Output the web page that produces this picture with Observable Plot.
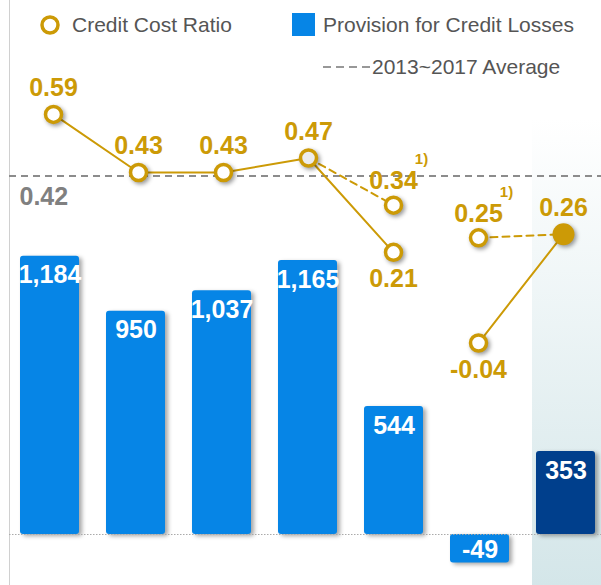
<!DOCTYPE html>
<html><head><meta charset="utf-8">
<script src="https://cdn.jsdelivr.net/npm/d3@7"></script>
<script src="https://cdn.jsdelivr.net/npm/@observablehq/plot@0.6"></script>
<style>
body{margin:0;background:#fff;font-family:"Liberation Sans",Arial,sans-serif;}
#wrap{position:relative;width:601px;height:585px;overflow:hidden;}
#wrap svg.layer{position:absolute;left:0;top:0;}
.bars g[aria-label="bar"]{filter:drop-shadow(3px 2px 2px rgba(0,0,0,0.35));}
.lines g[aria-label="dot"]{filter:drop-shadow(2px 2px 2px rgba(0,0,0,0.4));}
.leg{position:absolute;font-size:21px;line-height:24px;color:#555;white-space:nowrap;}
</style></head>
<body><div id="wrap"></div>
<script>
// ---- data ----
const categories = ["2013","2014","2015","2016","2017","1Q17","1Q18"];
const provision = [1184, 950, 1037, 1165, 544, -49, 353];
const provisionLabels = ["1,184","950","1,037","1,165","544","-49","353"];
const ratio = [0.59, 0.43, 0.43, 0.47, 0.21, -0.04, 0.26];
const ratioLabels = ["0.59","0.43","0.43","0.47","0.21","-0.04","0.26"];
const ratioGroup = ["annual","annual","annual","annual","annual","quarter","quarter"];
const adjCategories = ["2016","2017","1Q17","1Q18"];
const adjRatio = [0.47, 0.34, 0.25, 0.26];
const adjLabels = ["", "0.34", "0.25", ""];
const adjNotes = ["", "1)", "1)", ""];
const adjGroup = ["annual","annual","quarter","quarter"];
const averageRatio = 0.42;
const averageLabel = "0.42";

// ---- styles ----
const BLUE = "#0685e6", NAVY = "#003f8c", GOLD = "#cc9a06", GRAY = "#808080";
const FONT = "Liberation Sans, Arial, sans-serif";
const latestCat = categories[categories.length - 1];

const barData = categories.map((c, i) => ({cat: c, value: provision[i], label: provisionLabels[i]}));
const ratioData = categories.map((c, i) => ({cat: c, value: ratio[i], label: ratioLabels[i], group: ratioGroup[i]}));
const adjData = adjCategories.map((c, i) => ({cat: c, value: adjRatio[i], label: adjLabels[i], note: adjNotes[i], group: adjGroup[i]}));
ratioData.forEach(d => {
  const a = adjData.find(e => e.cat === d.cat);
  d.below = !!a && a.value > d.value;
});

const xOpts = {domain: categories, range: [9, 606], paddingInner: 0.31, paddingOuter: 0.09, axis: null};

const barPlot = Plot.plot({
  width: 601, height: 585, margin: 0, marginLeft: 9,
  className: "bars",
  style: {fontFamily: FONT, background: "transparent"},
  x: xOpts,
  y: {domain: [0, 1000], range: [534, 298.9], axis: null},
  marks: [
    Plot.cell([latestCat], {x: d => d, fill: "url(#panelGrad)", insetTop: 118, insetLeft: -4, insetRight: -8}),
    Plot.frame({anchor: "left", stroke: "#d0d0d0"}),
    Plot.barY(barData.filter(d => d.value >= 0 && d.cat !== latestCat), {x: "cat", y: "value", fill: BLUE, rx: 3}),
    Plot.barY(barData.filter(d => d.cat === latestCat), {x: "cat", y: "value", fill: NAVY, rx: 3}),
    Plot.barY(barData.filter(d => d.value < 0), {x: "cat", y: "value", fill: BLUE, rx: 3, insetBottom: -17}),
    Plot.ruleY([0], {stroke: "#aaa", strokeDasharray: "1.5,1.5"}),
    Plot.text(barData.filter(d => d.value >= 0), {x: "cat", y: "value", text: "label", dy: 19, fill: "white", fontSize: 25, fontWeight: "bold"}),
    Plot.text(barData.filter(d => d.value < 0), {x: "cat", y: "value", text: "label", dy: 4, fill: "white", fontSize: 25, fontWeight: "bold"})
  ]
});
barPlot.classList.add("layer");
d3.select(barPlot).insert("defs", ":first-child").html(
  '<linearGradient id="panelGrad" x1="0" y1="0" x2="0" y2="1">' +
  '<stop offset="0" stop-color="#ffffff"/><stop offset="1" stop-color="#d4e6e9"/></linearGradient>');

const linePlot = Plot.plot({
  width: 601, height: 585, margin: 0, marginLeft: 9,
  className: "lines",
  style: {fontFamily: FONT, background: "transparent"},
  x: xOpts,
  y: {domain: [0, 0.5], range: [328, 146.6], axis: null},
  marks: [
    Plot.ruleY([averageRatio], {stroke: "#8c8c8c", strokeWidth: 2, strokeDasharray: "7,5"}),
    Plot.text([averageRatio], {y: d => d, text: () => averageLabel, frameAnchor: "left", textAnchor: "start", dx: 10, dy: 21, fill: GRAY, fontSize: 25, fontWeight: "bold"}),
    Plot.line(ratioData, {x: "cat", y: "value", z: "group", stroke: GOLD, strokeWidth: 2}),
    Plot.line(adjData, {x: "cat", y: "value", z: "group", stroke: GOLD, strokeWidth: 2, strokeDasharray: "7,5"}),
    Plot.dot(adjData.filter(d => d.label), {x: "cat", y: "value", r: 8, stroke: GOLD, strokeWidth: 3.5, fill: "white"}),
    Plot.dot(ratioData.filter(d => d.cat !== latestCat), {x: "cat", y: "value", r: 8, stroke: GOLD, strokeWidth: 3.5, fill: d => d.cat === "2016" ? "#ececec" : "white"}),
    Plot.dot(ratioData.filter(d => d.cat === latestCat), {x: "cat", y: "value", r: 11, fill: GOLD}),
    Plot.text(ratioData.filter(d => !d.below), {x: "cat", y: "value", text: "label", dy: -26, fill: GOLD, fontSize: 25, fontWeight: "bold"}),
    Plot.text(ratioData.filter(d => d.below), {x: "cat", y: "value", text: "label", dy: 27, fill: GOLD, fontSize: 25, fontWeight: "bold"}),
    Plot.text(adjData.filter(d => d.label), {x: "cat", y: "value", text: "label", dy: -24, fill: GOLD, fontSize: 25, fontWeight: "bold"}),
    Plot.text(adjData.filter(d => d.note), {x: "cat", y: "value", text: "note", dx: 28, dy: -46, fill: GOLD, fontSize: 15, fontWeight: "bold"})
  ]
});
linePlot.classList.add("layer");

const wrap = document.getElementById("wrap");
wrap.appendChild(barPlot);
wrap.appendChild(linePlot);

// ---- legend ----
wrap.insertAdjacentHTML("beforeend",
  `<svg class="layer" width="601" height="90" style="pointer-events:none">
     <circle cx="50" cy="25" r="8" fill="white" stroke="${GOLD}" stroke-width="3.5"/>
     <rect x="292" y="13" width="23" height="23" fill="${BLUE}"/>
     <line x1="323" x2="370" y1="67" y2="67" stroke="#777" stroke-width="1.5" stroke-dasharray="8,5"/>
   </svg>
   <div class="leg" style="left:72px;top:13px">Credit Cost Ratio</div>
   <div class="leg" style="left:323px;top:13px">Provision for Credit Losses</div>
   <div class="leg" style="left:372px;top:55px">2013~2017 Average</div>`);
</script>
</body></html>
